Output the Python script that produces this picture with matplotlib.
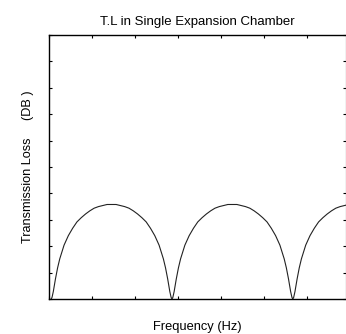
import matplotlib
matplotlib.use("Agg")
import matplotlib.pyplot as plt

plt.rcParams['font.family'] = ['Liberation Sans', 'DejaVu Sans']

# Transmission loss (frequency in Hz, TL in dB)
freq = [5, 7, 10, 15, 20, 25, 35, 45, 55, 65, 75, 85, 95, 105, 115, 125, 135, 145.5,
        156, 166, 176, 186, 196, 206, 216, 226, 236, 246, 256, 266, 271, 276, 281, 284, 286,
        288, 291, 296, 301, 306, 316, 326, 336, 346, 356, 366, 376, 386, 396, 406, 416, 426.5,
        437, 447, 457, 467, 477, 487, 497, 507, 517, 527, 537, 547, 552, 557, 562, 565, 567,
        569, 572, 577, 582, 587, 597, 607, 617, 627, 637, 647, 657, 667, 677, 687, 697]
tl = [0, 0.3, 1.4, 3.8, 5.9, 7.6, 10.2, 12.0, 13.4, 14.6, 15.4, 16.1, 16.7, 17.2, 17.5, 17.7, 17.9, 17.9,
      17.9, 17.7, 17.5, 17.2, 16.7, 16.1, 15.4, 14.6, 13.4, 12.0, 10.2, 7.6, 5.9, 3.8, 1.4, 0.3, 0,
      0.3, 1.4, 3.8, 5.9, 7.6, 10.2, 12.0, 13.4, 14.6, 15.4, 16.1, 16.7, 17.2, 17.5, 17.7, 17.9, 17.9,
      17.9, 17.7, 17.5, 17.2, 16.7, 16.1, 15.4, 14.6, 13.4, 12.0, 10.2, 7.6, 5.9, 3.8, 1.4, 0.3, 0,
      0.3, 1.4, 3.8, 5.9, 7.6, 10.2, 12.0, 13.4, 14.6, 15.4, 16.1, 16.7, 17.2, 17.5, 17.7, 17.9]

x_ticks = [0, 100, 200, 300, 400, 500, 600]
y_ticks = [0, 5, 10, 15, 20, 25, 30, 35, 40, 45, 50]

fig = plt.figure(figsize=(3.46, 3.34), dpi=100)
ax = fig.add_axes([49 / 346, 1 - 299 / 334, 297 / 346, 264 / 334])

ax.plot(freq, tl, color='#222222', linewidth=0.8)

ax.set_xlim(0, 690.7)
ax.set_ylim(0, 50)
ax.set_xticks(x_ticks)
ax.set_yticks(y_ticks)
ax.tick_params(direction='in', length=2.5, width=0.8, top=True, right=True,
               labelbottom=False, labelleft=False)
for side in ['left', 'bottom', 'top']:
    ax.spines[side].set_linewidth(1.0)

ax.set_title('T.L in Single Expansion Chamber', fontsize=9.5, pad=7)
ax.set_xlabel('Frequency (Hz)', fontsize=9.3, labelpad=16)
ax.set_ylabel('Transmission Loss     (DB )', fontsize=9.2, labelpad=11)

fig.savefig('out.png', dpi=100)
